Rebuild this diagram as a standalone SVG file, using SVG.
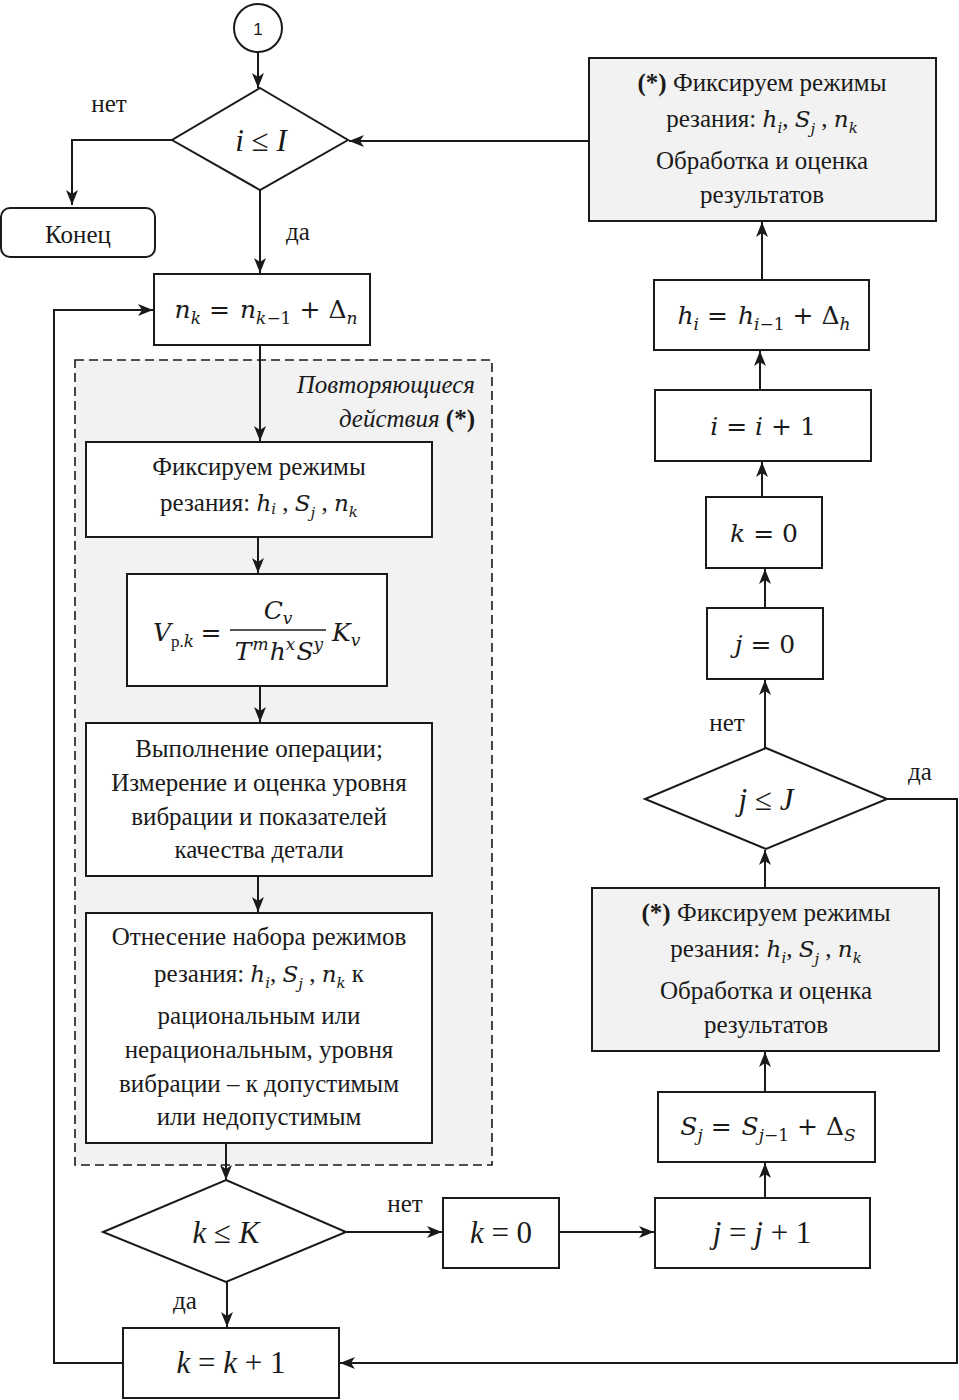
<svg xmlns="http://www.w3.org/2000/svg" width="959" height="1400" viewBox="0 0 959 1400">
<style>
.n{fill:#fff;stroke:#1a1a1a;stroke-width:2}
.g{fill:#f2f2f2;stroke:#1a1a1a;stroke-width:2}
.c{fill:none;stroke:#1a1a1a;stroke-width:2}
.t{font-family:"Liberation Serif","Times New Roman",serif;font-size:25px;fill:#1a1a1a;text-anchor:middle}
.m{font-family:"DejaVu Serif","Liberation Serif",serif;font-size:25px;font-style:italic;fill:#1a1a1a;text-anchor:middle}
.r{font-family:"Liberation Serif","Times New Roman",serif;font-size:31px;font-style:italic;fill:#1a1a1a;text-anchor:middle}
.i{font-style:italic}
.u{font-style:normal}
.s{font-size:17px}
.v{font-family:"DejaVu Serif","Liberation Serif",serif;font-style:italic;font-size:23px}
.vs{font-family:"DejaVu Serif","Liberation Serif",serif;font-style:italic;font-size:15px}
</style>
<defs>
<marker id="a" markerUnits="userSpaceOnUse" markerWidth="16" markerHeight="12" refX="15" refY="6" orient="auto">
<path d="M0,0 L15,6 L0,12 L4,6 z" fill="#1a1a1a"/>
</marker>
</defs>

<rect id="repeat-region" x="75" y="360" width="417" height="805" fill="#f2f2f2" stroke="#1a1a1a" stroke-width="1.6" stroke-dasharray="9,5"/>
<g id="repeat-label">
<text class="t i" x="475" y="393" style="text-anchor:end">Повторяющиеся</text>
<text class="t" x="475" y="427" style="text-anchor:end"><tspan class="i">действия </tspan><tspan font-weight="bold">(*)</tspan></text>
</g>

<g id="connectors">
<path class="c" d="M258,53 V88" marker-end="url(#a)"/>
<path class="c" d="M172,140 H72 V205" marker-end="url(#a)"/>
<path class="c" d="M260,190 V273" marker-end="url(#a)"/>
<path class="c" d="M260,345 V441" marker-end="url(#a)"/>
<path class="c" d="M258,537 V573" marker-end="url(#a)"/>
<path class="c" d="M260,686 V722" marker-end="url(#a)"/>
<path class="c" d="M258,876 V912" marker-end="url(#a)"/>
<path class="c" d="M226,1143 V1180" marker-end="url(#a)"/>
<path class="c" d="M346,1232 H442" marker-end="url(#a)"/>
<path class="c" d="M559,1232 H654" marker-end="url(#a)"/>
<path class="c" d="M227,1282 V1327" marker-end="url(#a)"/>
<path class="c" d="M123,1363 H54 V310 H153" marker-end="url(#a)"/>
<path class="c" d="M887,799 H957 V1363 H340" marker-end="url(#a)"/>
<path class="c" d="M765,1198 V1163" marker-end="url(#a)"/>
<path class="c" d="M765,1092 V1052" marker-end="url(#a)"/>
<path class="c" d="M765,888 V850" marker-end="url(#a)"/>
<path class="c" d="M765,748 V680" marker-end="url(#a)"/>
<path class="c" d="M765,608 V569" marker-end="url(#a)"/>
<path class="c" d="M762,497 V462" marker-end="url(#a)"/>
<path class="c" d="M760,390 V351" marker-end="url(#a)"/>
<path class="c" d="M762,280 V222" marker-end="url(#a)"/>
<path class="c" d="M589,141 H349" marker-end="url(#a)"/>
</g>

<g id="labels">
<text class="t" x="109" y="112">нет</text>
<text class="t" x="298" y="240">да</text>
<text class="t" x="405" y="1212">нет</text>
<text class="t" x="185" y="1309">да</text>
<text class="t" x="727" y="731">нет</text>
<text class="t" x="920" y="780">да</text>
</g>

<g id="start">
<circle cx="258" cy="28" r="24" class="n"/>
<text x="258" y="35" font-family="Liberation Sans,Arial,sans-serif" font-size="17" text-anchor="middle" fill="#1a1a1a">1</text>
</g>

<g id="dec-i">
<polygon class="n" points="260,88 348,140 260,190 172,140"/>
<text class="r" x="261" y="151">i <tspan class="u">≤</tspan>  I</text>
</g>

<g id="end">
<rect class="n" x="1" y="208" width="154" height="49" rx="9"/>
<text class="t" x="78" y="243">Конец</text>
</g>

<g id="n-inc">
<rect class="n" x="154" y="274" width="216" height="71"/>
<text class="m" x="266" y="318">n<tspan class="s" dy="6">k</tspan><tspan class="u" dy="-6" dx="8">=</tspan><tspan dx="10">n</tspan><tspan class="s" dy="6">k</tspan><tspan class="s u">−1</tspan><tspan class="u" dy="-6" dx="8">+</tspan><tspan class="u" dx="8">Δ</tspan><tspan class="s" dy="6">n</tspan></text>
</g>

<g id="fix-modes">
<rect class="n" x="86" y="442" width="346" height="95"/>
<text class="t" x="259" y="475">Фиксируем режимы</text>
<text class="t" x="259" y="511">резания: <tspan class="v">h</tspan><tspan class="vs" dy="3">i</tspan><tspan dy="-3"> , </tspan><tspan class="v">S</tspan><tspan class="vs" dy="7">j</tspan><tspan dy="-7"> , </tspan><tspan class="v">n</tspan><tspan class="vs" dy="6">k</tspan></text>
</g>

<g id="formula">
<rect class="n" x="127" y="574" width="260" height="112"/>
<text class="m" x="153" y="641" style="text-anchor:start">V<tspan class="s u" dy="6" font-family="Liberation Serif">р.</tspan><tspan class="s">k</tspan></text>
<text class="m u" x="211" y="641" style="font-style:normal">=</text>
<line x1="230" y1="630" x2="326" y2="630" stroke="#1a1a1a" stroke-width="1.6"/>
<text class="m" x="278" y="619">C<tspan class="s" dy="5">v</tspan></text>
<text class="m" x="279" y="660">T<tspan class="s" dy="-10" dx="1">m</tspan><tspan dy="10" dx="1">h</tspan><tspan class="s" dy="-10">x</tspan><tspan dy="10" dx="1">S</tspan><tspan class="s" dy="-10">y</tspan></text>
<text class="m" x="332" y="641" style="text-anchor:start">K<tspan class="s" dy="5">v</tspan></text>
</g>

<g id="execute">
<rect class="n" x="86" y="723" width="346" height="153"/>
<text class="t" x="259" y="757">Выполнение операции;</text>
<text class="t" x="259" y="791">Измерение и оценка уровня</text>
<text class="t" x="259" y="825">вибрации и показателей</text>
<text class="t" x="259" y="858">качества детали</text>
</g>

<g id="classify">
<rect class="n" x="86" y="913" width="346" height="230"/>
<text class="t" x="259" y="945">Отнесение набора режимов</text>
<text class="t" x="259" y="982">резания: <tspan class="v">h</tspan><tspan class="vs" dy="6">i</tspan><tspan dy="-6">, </tspan><tspan class="v">S</tspan><tspan class="vs" dy="7">j</tspan><tspan dy="-7"> , </tspan><tspan class="v">n</tspan><tspan class="vs" dy="6">k</tspan><tspan dy="-6"> к</tspan></text>
<text class="t" x="259" y="1024">рациональным или</text>
<text class="t" x="259" y="1058">нерациональным, уровня</text>
<text class="t" x="259" y="1092">вибрации – к допустимым</text>
<text class="t" x="259" y="1125">или недопустимым</text>
</g>

<g id="dec-k">
<polygon class="n" points="226,1180 346,1232 226,1282 103,1232"/>
<text class="r" x="226" y="1243">k <tspan class="u">≤</tspan>  K</text>
</g>

<g id="k-zero-b">
<rect class="n" x="443" y="1198" width="116" height="70"/>
<text class="r" x="501" y="1243">k<tspan class="u"> = 0</tspan></text>
</g>

<g id="j-inc">
<rect class="n" x="655" y="1198" width="215" height="70"/>
<text class="r" x="762" y="1243">j<tspan class="u"> = </tspan>j<tspan class="u"> + 1</tspan></text>
</g>

<g id="k-inc">
<rect class="n" x="123" y="1328" width="216" height="70"/>
<text class="r" x="231" y="1373">k<tspan class="u"> = </tspan>k<tspan class="u"> + 1</tspan></text>
</g>

<g id="s-inc">
<rect class="n" x="658" y="1092" width="217" height="70"/>
<text class="m" x="768" y="1135">S<tspan class="s" dy="6">j</tspan><tspan class="u" dy="-6" dx="8">=</tspan><tspan dx="10">S</tspan><tspan class="s" dy="6">j</tspan><tspan class="s u">−1</tspan><tspan class="u" dy="-6" dx="8">+</tspan><tspan class="u" dx="8">Δ</tspan><tspan class="s" dy="6">S</tspan></text>
</g>

<g id="fix-modes-2">
<rect class="g" x="592" y="888" width="347" height="163"/>
<text class="t" x="766" y="921"><tspan font-weight="bold">(*)</tspan> Фиксируем режимы</text>
<text class="t" x="766" y="957">резания: <tspan class="v">h</tspan><tspan class="vs" dy="6">i</tspan><tspan dy="-6">, </tspan><tspan class="v">S</tspan><tspan class="vs" dy="7">j</tspan><tspan dy="-7"> , </tspan><tspan class="v">n</tspan><tspan class="vs" dy="6">k</tspan></text>
<text class="t" x="766" y="999">Обработка и оценка</text>
<text class="t" x="766" y="1033">результатов</text>
</g>

<g id="dec-j">
<polygon class="n" points="766,748 887,799 766,849 645,799"/>
<text class="r" x="766" y="810">j <tspan class="u">≤</tspan>  J</text>
</g>

<g id="j-zero">
<rect class="n" x="707" y="608" width="116" height="71"/>
<text class="m" x="765" y="653">j<tspan class="u"> = 0</tspan></text>
</g>

<g id="k-zero">
<rect class="n" x="706" y="497" width="116" height="71"/>
<text class="m" x="764" y="542">k<tspan class="u"> = 0</tspan></text>
</g>

<g id="i-inc">
<rect class="n" x="655" y="390" width="216" height="71"/>
<text class="m" x="763" y="435">i<tspan class="u"> = </tspan>i<tspan class="u"> + 1</tspan></text>
</g>

<g id="h-inc">
<rect class="n" x="654" y="280" width="215" height="70"/>
<text class="m" x="764" y="324">h<tspan class="s" dy="6">i</tspan><tspan class="u" dy="-6" dx="8">=</tspan><tspan dx="10">h</tspan><tspan class="s" dy="6">i</tspan><tspan class="s u">−1</tspan><tspan class="u" dy="-6" dx="8">+</tspan><tspan class="u" dx="8">Δ</tspan><tspan class="s" dy="6">h</tspan></text>
</g>

<g id="fix-modes-1">
<rect class="g" x="589" y="58" width="347" height="163"/>
<text class="t" x="762" y="91"><tspan font-weight="bold">(*)</tspan> Фиксируем режимы</text>
<text class="t" x="762" y="127">резания: <tspan class="v">h</tspan><tspan class="vs" dy="6">i</tspan><tspan dy="-6">, </tspan><tspan class="v">S</tspan><tspan class="vs" dy="7">j</tspan><tspan dy="-7"> , </tspan><tspan class="v">n</tspan><tspan class="vs" dy="6">k</tspan></text>
<text class="t" x="762" y="169">Обработка и оценка</text>
<text class="t" x="762" y="203">результатов</text>
</g>
</svg>
